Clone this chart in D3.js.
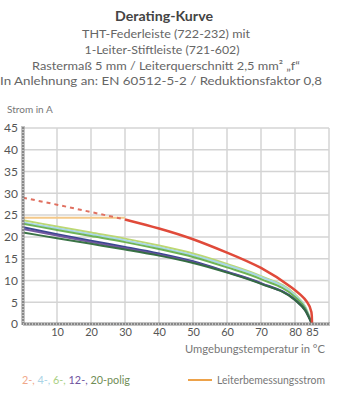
<!DOCTYPE html>
<html><head><meta charset="utf-8">
<script src="https://cdn.jsdelivr.net/npm/d3@7"></script>
<style>body{margin:0;background:#fff}svg{display:block}</style>
</head><body><svg id="c" width="343" height="400"></svg>
<script>
const titleLines = ["THT-Federleiste (722-232) mit","1-Leiter-Stiftleiste (721-602)","Rastermaß 5 mm / Leiterquerschnitt 2,5 mm² „f“","In Anlehnung an: EN 60512-5-2 / Reduktionsfaktor 0,8"];
const xTicks = [10,20,30,40,50,60,70,80,85];
const yTicks = [0,5,10,15,20,25,30,35,40,45];
const temps = [0,10,20,30,40,50,60,70,80,83,85];
const seriesNames = ["hellgrün","hellblau","grün","dunkelblau","violett","dunkelgrün"];
const seriesColors = ["#b9d66c","#a4d5e8","#67b04c","#2f3d8a","#6b519d","#2f6b3c"];
const lightGreen = [23.8,22.4,21.0,19.6,18.0,16.2,13.8,11.0,6.8,4.0,0];
const lightBlue  = [23.3,22.0,20.6,19.2,17.6,15.8,13.5,10.8,6.6,3.9,0];
const green      = [23.0,21.6,20.2,18.8,17.2,15.4,13.0,10.3,6.2,3.6,0];
const navy       = [22.2,20.6,19.1,17.7,16.2,14.4,12.0,9.4,5.6,3.2,0];
const purple     = [21.8,20.3,18.8,17.4,15.9,14.2,11.9,9.3,5.5,3.1,0];
const darkGreen  = [21.0,19.7,18.4,17.1,15.7,14.0,11.8,9.2,5.5,3.1,0];
const seriesValues = [lightGreen,lightBlue,green,navy,purple,darkGreen];
const redTemps = [30,40,50,60,70,80,84,85,85];
const redValues = [24,22.0,19.6,16.4,13.2,8.0,5.0,2.8,0];
const redDashTemps = [0,10,20,30];
const redDashValues = [29,27.4,25.7,24];
const ratedTemps = [0,30];
const ratedValues = [24.4,24.4];
const legendParts = [["2-, ","#f0a88a"],["4-, ","#a9d3e6"],["6-, ","#a9cf82"],["12-, ","#6f55a0"],["20-polig","#6f8d55"]];

const svg = d3.select("#c");
const font = "Lato, 'Open Sans', sans-serif";
const x = d3.scaleLinear().domain([0,90]).range([23,329]);
const y = d3.scaleLinear().domain([0,45]).range([324,128]);

// titles
svg.append("text").attr("x",164).attr("y",21).attr("text-anchor","middle")
  .attr("font-family",font).attr("font-weight","bold").attr("font-size",13)
  .attr("fill","#444").attr("textLength",98).attr("lengthAdjust","spacingAndGlyphs").text("Derating-Kurve");
const tl = [[166,38,168],[162,54,155],[166,70,268],[161,85,322]];
titleLines.forEach((t,i)=>{
  svg.append("text").attr("x",tl[i][0]).attr("y",tl[i][1]).attr("text-anchor","middle")
    .attr("font-family",font).attr("font-size",12).attr("fill","#666")
    .attr("textLength",tl[i][2]).attr("lengthAdjust","spacingAndGlyphs").text(t);
});
svg.append("text").attr("x",7).attr("y",113).attr("font-family",font).attr("font-size",10)
  .attr("fill","#777").text("Strom in A");

// grid
const g = svg.append("g");
d3.range(10,91,10).forEach(v=>{
  g.append("line").attr("x1",x(v)).attr("x2",x(v)).attr("y1",y(45)).attr("y2",y(0))
   .attr("stroke","#d4d4d4").attr("stroke-width",1.5);
});
yTicks.filter(v=>v>0).forEach(v=>{
  g.append("line").attr("x1",x(0)).attr("x2",x(90)).attr("y1",y(v)).attr("y2",y(v))
   .attr("stroke","#d4d4d4").attr("stroke-width",1.5);
});

// curves
const line = d3.line().x((d,i)=>x(d[0])).y(d=>y(d[1])).curve(d3.curveMonotoneX);
seriesValues.forEach((vals,k)=>{
  svg.append("path").attr("d",line(temps.map((t,i)=>[t,vals[i]])))
    .attr("fill","none").attr("stroke",seriesColors[k]).attr("stroke-width",2).attr("opacity",0.95);
});
svg.append("path").attr("d",d3.line().x(d=>x(d[0])).y(d=>y(d[1]))(ratedTemps.map((t,i)=>[t,ratedValues[i]])))
  .attr("fill","none").attr("stroke","#f4c98a").attr("stroke-width",2);
svg.append("path").attr("d",d3.line().x(d=>x(d[0])).y(d=>y(d[1]))(redDashTemps.map((t,i)=>[t,redDashValues[i]])))
  .attr("fill","none").attr("stroke","#e07060").attr("stroke-width",2).attr("stroke-dasharray","4,4");
svg.append("path").attr("d",d3.line().x(d=>x(d[0])).y(d=>y(d[1])).curve(d3.curveBasis)(redTemps.map((t,i)=>[t,redValues[i]])))
  .attr("fill","none").attr("stroke","#e04a3a").attr("stroke-width",2.5);

// axes
const yAxis = d3.axisLeft(y).tickValues(yTicks).tickSize(0).tickPadding(5);
const ya = svg.append("g").attr("transform",`translate(${x(0)},0)`).call(yAxis);
ya.select(".domain").remove();
ya.selectAll("text").attr("font-family",font).attr("font-size",12).attr("fill","#555");
svg.append("line").attr("x1",x(0)).attr("x2",x(0)).attr("y1",y(45)-2).attr("y2",y(0)+1)
  .attr("stroke","#888").attr("stroke-width",3);
svg.append("line").attr("x1",x(0)).attr("x2",x(0)).attr("y1",y(45)-2).attr("y2",y(0))
  .attr("stroke","#fff").attr("stroke-width",1).attr("stroke-dasharray","1,2");
const xAxis = d3.axisBottom(x).tickValues(xTicks).tickSize(0).tickPadding(4);
const xa = svg.append("g").attr("transform",`translate(0,${y(0)})`).call(xAxis);
xa.select(".domain").remove();
xa.selectAll("text").attr("font-family",font).attr("font-size",11).attr("fill","#555");
svg.append("line").attr("x1",x(0)).attr("x2",x(90)+1).attr("y1",y(0)).attr("y2",y(0))
  .attr("stroke","#888").attr("stroke-width",3);
svg.append("line").attr("x1",x(0)).attr("x2",x(90)+1).attr("y1",y(0)).attr("y2",y(0))
  .attr("stroke","#fff").attr("stroke-width",1).attr("stroke-dasharray","1,2");

svg.append("text").attr("x",325).attr("y",353).attr("text-anchor","end").attr("font-family",font)
  .attr("font-size",11).attr("fill","#777").attr("textLength",140).attr("lengthAdjust","spacingAndGlyphs")
  .text("Umgebungstemperatur in °C");

// legend
const lt = svg.append("text").attr("x",22).attr("y",384).attr("font-family",font).attr("font-size",11)
  .attr("textLength",108).attr("lengthAdjust","spacingAndGlyphs");
legendParts.forEach(p=>lt.append("tspan").attr("fill",p[1]).text(p[0]));
svg.append("line").attr("x1",188).attr("x2",212).attr("y1",380).attr("y2",380)
  .attr("stroke","#eda24a").attr("stroke-width",2);
svg.append("text").attr("x",217).attr("y",384).attr("font-family",font).attr("font-size",11)
  .attr("fill","#777").attr("textLength",108).attr("lengthAdjust","spacingAndGlyphs").text("Leiterbemessungsstrom");
</script></body></html>
